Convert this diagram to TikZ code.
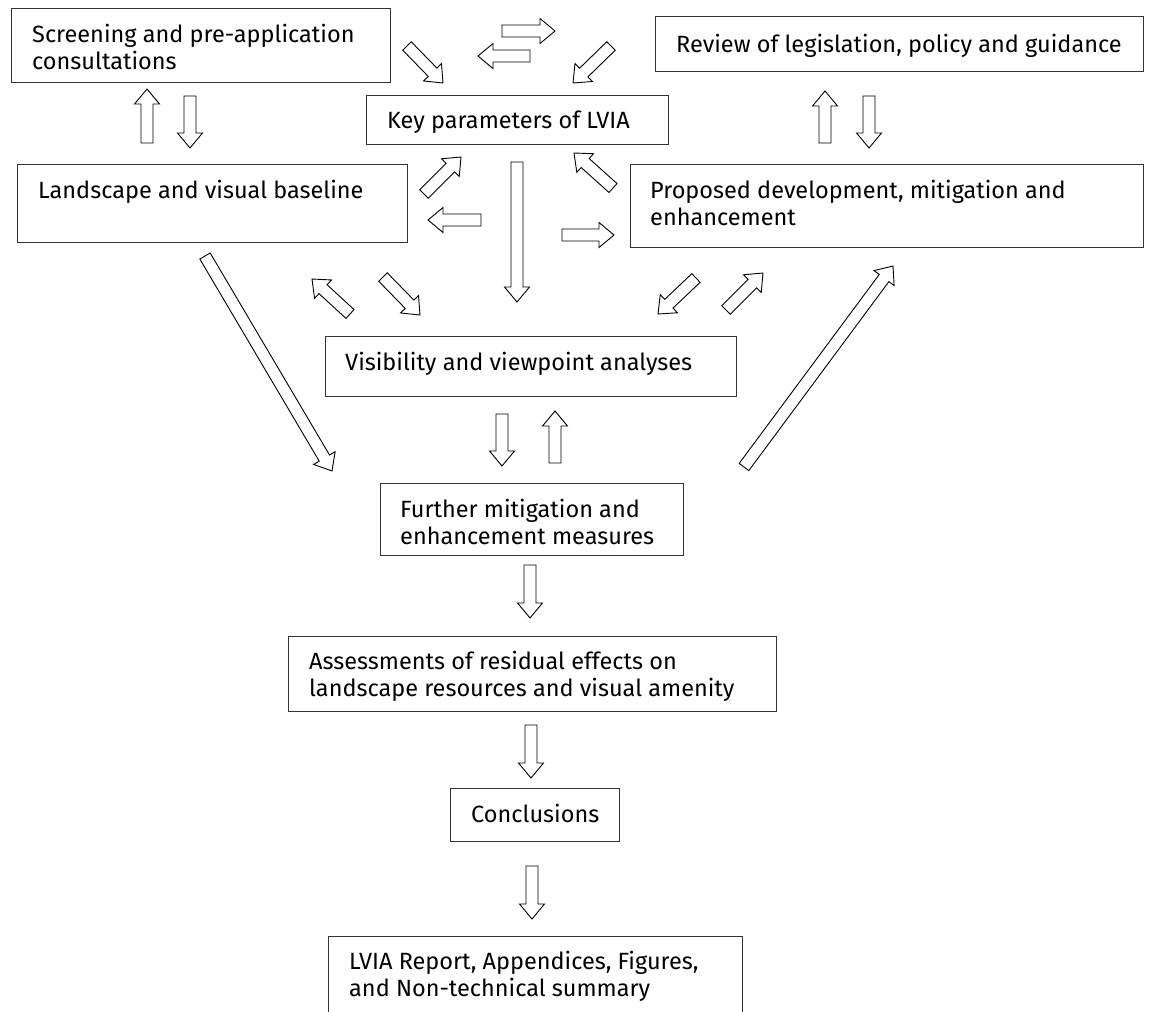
\documentclass[tikz,border=0pt]{standalone}
\usepackage{fontspec}
\setmainfont{Fira Sans}
\usetikzlibrary{calc}
\tikzset{
  box/.style={draw=black!80, line width=1.4pt, fill=none, inner sep=0pt, anchor=north west},
  txt/.style={anchor=base west, align=left, inner sep=0pt, font=\fontsize{23.5}{27.5}\selectfont},
  barrow/.style={draw=black, line width=0.9pt, fill=white, line join=miter},
}
\newcommand{\blk}[2]{%
  \coordinate (blkN) at ($(#2)!15pt!(#1)$);
  \draw[barrow] ($(#1)!6pt!-90:(#2)$) -- ($(blkN)!6pt!-90:(#2)$) -- ($(blkN)!12.5pt!-90:(#2)$) -- (#2)
     -- ($(blkN)!12.5pt!90:(#2)$) -- ($(blkN)!6pt!90:(#2)$) -- ($(#1)!6pt!90:(#2)$) -- cycle;
}
\begin{document}
\begin{tikzpicture}[x=1pt,y=-1pt]
\useasboundingbox (0,0) rectangle (1152,1012);
\clip (0,0) rectangle (1152,1012);
% boxes
\node[box, minimum width=379pt, minimum height=74pt] (scr) at (11,8) {};
\node[box, minimum width=488pt, minimum height=55pt] (rev) at (655,16) {};
\node[box, minimum width=302pt, minimum height=49pt] (key) at (366,95) {};
\node[box, minimum width=390pt, minimum height=78pt] (land) at (17,164) {};
\node[box, minimum width=513pt, minimum height=83pt] (prop) at (630,164) {};
\node[box, minimum width=411pt, minimum height=60pt] (vis) at (325,336) {};
\node[box, minimum width=303pt, minimum height=72pt] (fur) at (380,483) {};
\node[box, minimum width=488pt, minimum height=75pt] (ass) at (288,636) {};
\node[box, minimum width=169pt, minimum height=53pt] (con) at (450,788) {};
\node[box, minimum width=414pt, minimum height=90pt] (lvia) at (328,936) {};
% texts (two-line nodes are placed by the baseline of their last line)
\node[txt] (tscr) at (32,69.5) {Screening and pre-application\\consultations};
\node[txt] (trev) at (676,52) {Review of legislation, policy and guidance};
\node[txt] (tkey) at (387,128) {Key parameters of LVIA};
\node[txt] (tland) at (38,198) {Landscape and visual baseline};
\node[txt] (tprop) at (650,225.5) {Proposed development, mitigation and\\enhancement};
\node[txt] (tvis) at (345,370) {Visibility and viewpoint analyses};
\node[txt] (tfur) at (400,544.5) {Further mitigation and\\enhancement measures};
\node[txt] (tass) at (309,696.5) {Assessments of residual effects on\\landscape resources and visual amenity};
\node[txt] (tcon) at (471,822) {Conclusions};
\node[txt] (tlvia) at (349,996.5) {LVIA Report, Appendices, Figures,\\and Non-technical summary};
% arrow end points
\coordinate (a1s) at (147,143); \coordinate (a1e) at (147,89);
\coordinate (a2s) at (190,96);  \coordinate (a2e) at (190,148);
\coordinate (a3s) at (825,143); \coordinate (a3e) at (825,91);
\coordinate (a4s) at (869,96);  \coordinate (a4e) at (869,148);
\coordinate (a5s) at (517,162); \coordinate (a5e) at (517,302);
\coordinate (a6s) at (502,414); \coordinate (a6e) at (502,466);
\coordinate (a7s) at (555,463); \coordinate (a7e) at (555,411);
\coordinate (a8s) at (530,565); \coordinate (a8e) at (530,618);
\coordinate (a9s) at (531,725); \coordinate (a9e) at (531,778);
\coordinate (a10s) at (532,866); \coordinate (a10e) at (532,919);
\coordinate (a11s) at (502,31); \coordinate (a11e) at (555,31);
\coordinate (a12s) at (530,56); \coordinate (a12e) at (478,56);
\coordinate (a13s) at (481,220); \coordinate (a13e) at (428,220);
\coordinate (a14s) at (562,235); \coordinate (a14e) at (614,235);
\coordinate (a15s) at (407,46); \coordinate (a15e) at (443,83);
\coordinate (a16s) at (611,46); \coordinate (a16e) at (573,83);
\coordinate (a17s) at (424,194); \coordinate (a17e) at (461,157);
\coordinate (a18s) at (613,188); \coordinate (a18e) at (574,153);
\coordinate (a19s) at (350,314); \coordinate (a19e) at (312,279);
\coordinate (a20s) at (383,277); \coordinate (a20e) at (420,315);
\coordinate (a21s) at (696,278); \coordinate (a21e) at (658,314);
\coordinate (a22s) at (726,310); \coordinate (a22e) at (763,273);
\coordinate (a23s) at (205,256); \coordinate (a23e) at (332,471);
\coordinate (a24s) at (744,467); \coordinate (a24e) at (893,266);
\foreach \i in {1,...,24} {\blk{a\i s}{a\i e}}
\end{tikzpicture}
\end{document}
